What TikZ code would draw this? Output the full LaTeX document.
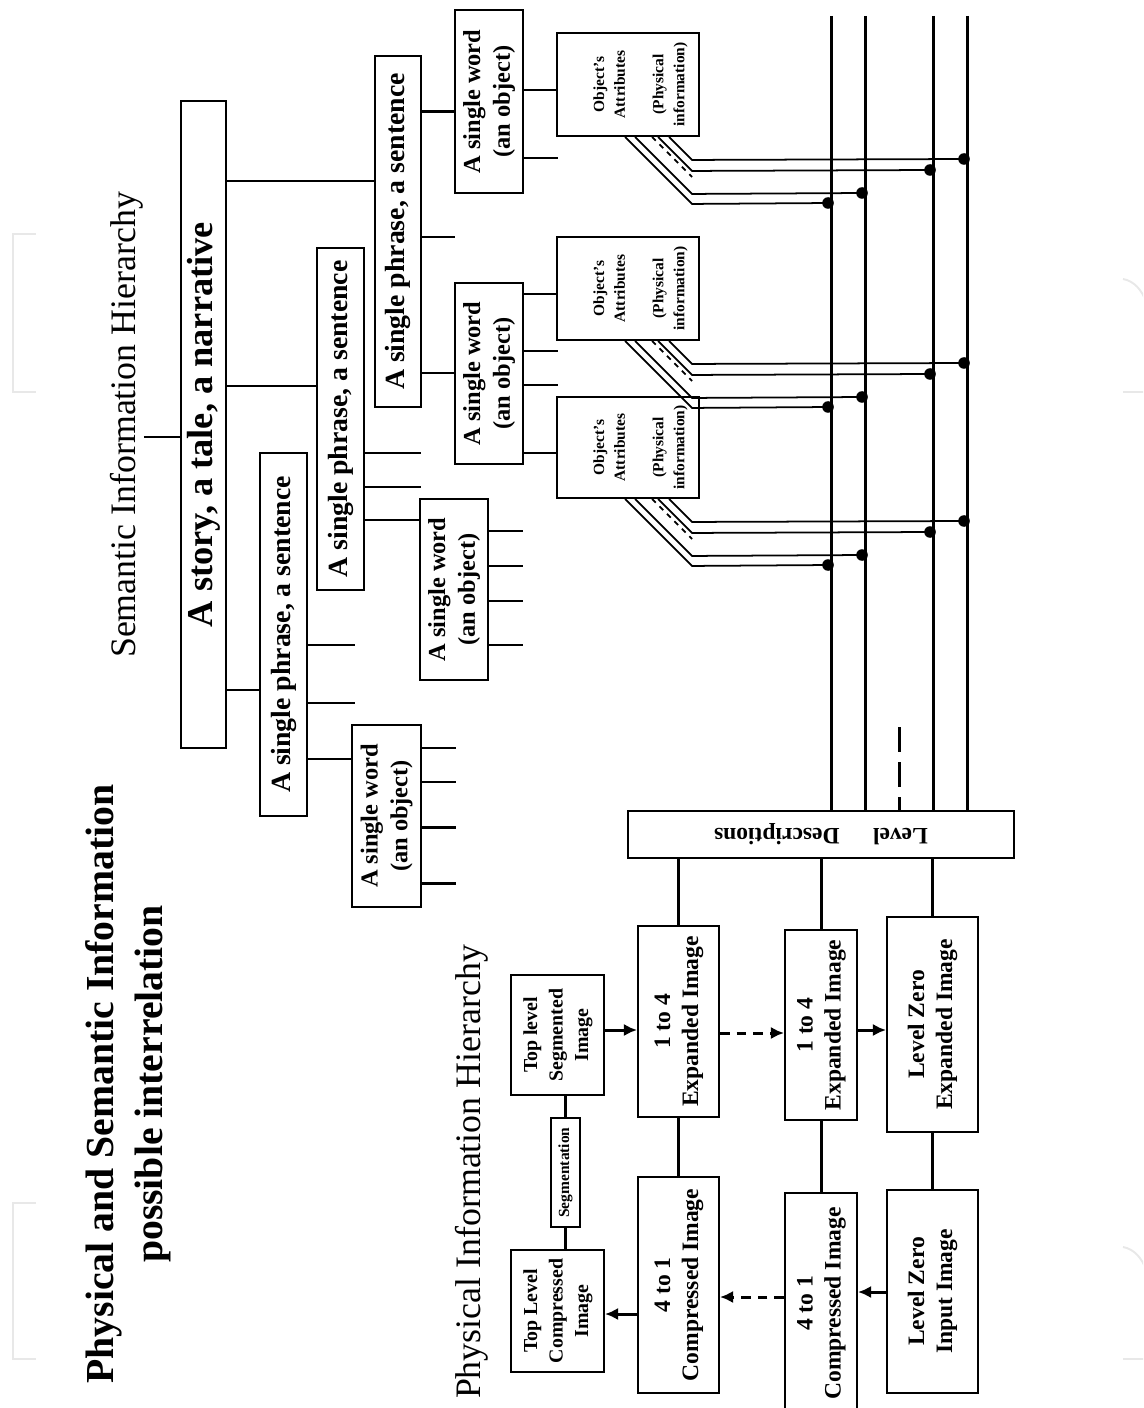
\documentclass[tikz,border=0pt]{standalone}
\usepackage{fontspec}
\setmainfont{Liberation Serif}
\usetikzlibrary{arrows.meta}

\newcommand{\uptext}[1]{\rotatebox{90}{\begin{tabular}{@{}c@{}}#1\end{tabular}}}

\tikzset{
  box/.style={draw, line width=1.1pt, inner sep=0pt},
  storybox/.style={box, font=\bfseries\fontsize{20.7pt}{25pt}\selectfont},
  phrasebox/.style={box, font=\bfseries\fontsize{15.8pt}{19pt}\selectfont},
  wordbox/.style={box, font=\bfseries\fontsize{13.9pt}{17pt}\selectfont},
  attrbox/.style={box, font=\bfseries\fontsize{8.8pt}{11.9pt}\selectfont},
  imgbox/.style={box, font=\bfseries\fontsize{13.4pt}{15.9pt}\selectfont},
  topbox/.style={box, font=\bfseries\fontsize{11.3pt}{14.5pt}\selectfont},
  segbox/.style={box, font=\bfseries\fontsize{8.8pt}{10pt}\selectfont},
  levelbox/.style={box, font=\bfseries\fontsize{13.4pt}{16pt}\selectfont},
  hier/.style={inner sep=0pt, font=\fontsize{20.4pt}{24pt}\selectfont},
  heading/.style={inner sep=0pt, font=\bfseries\fontsize{22.6pt}{28.3pt}\selectfont},
  link/.style={line width=1.7pt},
  wire/.style={line width=1pt},
  bus/.style={line width=1.7pt},
  flow/.style={line width=1.7pt, -{Latex[length=7.5pt,width=7pt]}},
  faint/.style={draw=black!9, line width=1.1pt}
}

\begin{document}
\begin{tikzpicture}[x=0.02cm, y=-0.02cm]
  \useasboundingbox (0,0) rectangle (1143,1408);
  \clip (0,0) rectangle (1143,1408);

  \draw[faint] (36,234) -- (13,234) -- (13,392) -- (36,392);
  \draw[faint] (36,1203) -- (13,1203) -- (13,1359) -- (36,1359);
  \draw[faint] (1123,279) .. controls (1134,281) and (1142,290) .. (1146,302);
  \draw[faint] (1123,392) -- (1146,392);
  \draw[faint] (1123,1247) .. controls (1134,1249) and (1142,1258) .. (1146,1270);
  \draw[faint] (1123,1359) -- (1146,1359);

  \node[heading] (title) at (128,1084) {\uptext{Physical and Semantic Information\\possible interrelation}};
  \node[hier] (semtitle) at (127,425) {\rotatebox{90}{Semantic Information Hierarchy}};
  \node[hier] (phystitle) at (472,1172) {\rotatebox{90}{Physical Information Hierarchy}};

  \node[storybox, minimum width=0.90cm, minimum height=12.94cm] (story) at (203.5,424.5) {\uptext{A story, a tale, a narrative}};
  \node[phrasebox, minimum width=0.94cm, minimum height=7.26cm] (phraseA) at (283.5,634.5) {\uptext{A single phrase, a sentence}};
  \node[phrasebox, minimum width=0.94cm, minimum height=6.84cm] (phraseB) at (340.5,419) {\uptext{A single phrase, a sentence}};
  \node[phrasebox, minimum width=0.92cm, minimum height=7.02cm] (phraseC) at (398,231.5) {\uptext{A single phrase, a sentence}};
  \node[wordbox, minimum width=1.38cm, minimum height=3.64cm] (wordA) at (386.5,816) {\uptext{A single word\\(an object)}};
  \node[wordbox, minimum width=1.36cm, minimum height=3.62cm] (wordB) at (454,589.5) {\uptext{A single word\\(an object)}};
  \node[wordbox, minimum width=1.36cm, minimum height=3.66cm] (wordC) at (489,101.5) {\uptext{A single word\\(an object)}};
  \node[wordbox, minimum width=1.36cm, minimum height=3.62cm] (wordD) at (489,373.5) {\uptext{A single word\\(an object)}};
  \node[attrbox, minimum width=2.84cm, minimum height=2.06cm] (attrA) at (628,84.5) {\hspace{0.48cm}\uptext{Object’s\\Attributes\\[10pt](Physical\\information)}};
  \node[attrbox, minimum width=2.84cm, minimum height=2.06cm] (attrB) at (628,288.5) {\hspace{0.48cm}\uptext{Object’s\\Attributes\\[10pt](Physical\\information)}};
  \node[attrbox, minimum width=2.84cm, minimum height=2.02cm] (attrC) at (628,447.5) {\hspace{0.48cm}\uptext{Object’s\\Attributes\\[10pt](Physical\\information)}};

  \node[levelbox, minimum width=7.72cm, minimum height=0.94cm] (levels) at (821,834.5) {\rotatebox{180}{Level\hspace{19pt}Descriptions}};

  \node[topbox, minimum width=1.86cm, minimum height=2.40cm] (segimg) at (557.5,1035) {\uptext{Top level\\Segmented\\Image}};
  \node[topbox, minimum width=1.86cm, minimum height=2.44cm] (topcomp) at (557.5,1311) {\uptext{Top Level\\Compressed\\Image}};
  \node[segbox, minimum width=0.58cm, minimum height=2.18cm] (segm) at (565.5,1172.5) {\uptext{Segmentation}};
  \node[imgbox, minimum width=1.62cm, minimum height=3.82cm] (expA) at (678.5,1021.5) {\uptext{1 to 4\\Expanded Image}};
  \node[imgbox, minimum width=1.62cm, minimum height=4.32cm] (compA) at (678.5,1285) {\uptext{4 to 1\\Compressed Image}};
  \node[imgbox, minimum width=1.44cm, minimum height=3.80cm] (expB) at (821,1025) {\uptext{1 to 4\\Expanded Image}};
  \node[imgbox, minimum width=1.44cm, minimum height=4.42cm] (compB) at (821,1303.5) {\uptext{4 to 1\\Compressed Image}};
  \node[imgbox, minimum width=1.82cm, minimum height=4.30cm] (lzexp) at (932.5,1024.5) {\uptext{Level Zero\\Expanded Image}};
  \node[imgbox, minimum width=1.82cm, minimum height=4.06cm] (lzin) at (932.5,1291.5) {\uptext{Level Zero\\Input Image}};

  \coordinate (bus1) at (831,16);
  \coordinate (bus2) at (865,16);
  \coordinate (bus3) at (933,16);
  \coordinate (bus4) at (967,16);
  \coordinate (busd) at (899,727);

  % semantic tree
  \draw[wire] (semtitle.east |- 0,437) -- (story.west |- 0,437);
  \draw[link] (story.east |- 0,181) -- (phraseC.west |- 0,181);
  \draw[link] (story.east |- 0,386) -- (phraseB.west |- 0,386);
  \draw[link] (story.east |- 0,690) -- (phraseA.west |- 0,690);

  \draw[link] (phraseA.east |- 0,645) -- ++(47,0);
  \draw[link] (phraseA.east |- 0,703) -- ++(47,0);
  \draw[link] (phraseA.east |- 0,759) -- (wordA.west |- 0,759);
  \draw[link] (phraseB.east |- 0,453) -- ++(56,0);
  \draw[link] (phraseB.east |- 0,487) -- ++(56,0);
  \draw[link] (phraseB.east |- 0,520) -- (wordB.west |- 0,520);
  \draw[link] (phraseC.east |- 0,112) -- (wordC.west |- 0,112);
  \draw[link] (phraseC.east |- 0,237) -- ++(33,0);
  \draw[link] (phraseC.east |- 0,373) -- (wordD.west |- 0,373);

  \draw[link] (wordA.east |- 0,748) -- ++(34,0);
  \draw[link] (wordA.east |- 0,782) -- ++(34,0);
  \draw[link] (wordA.east |- 0,827) -- ++(34,0);
  \draw[link] (wordA.east |- 0,883) -- ++(34,0);
  \draw[link] (wordB.east |- 0,531) -- ++(34,0);
  \draw[link] (wordB.east |- 0,566) -- ++(34,0);
  \draw[link] (wordB.east |- 0,601) -- ++(34,0);
  \draw[link] (wordB.east |- 0,645) -- ++(34,0);
  \draw[wire] (wordC.east |- 0,90) -- (attrA.west |- 0,90);
  \draw[link] (wordC.east |- 0,158) -- ++(34,0);
  \draw[wire] (wordD.east |- 0,294) -- (attrB.west |- 0,294);
  \draw[link] (wordD.east |- 0,351) -- ++(34,0);
  \draw[link] (wordD.east |- 0,385) -- ++(34,0);
  \draw[wire] (wordD.east |- 0,453) -- (attrC.west |- 0,453);

  % level buses
  \draw[bus] (bus1) -- (bus1 |- levels.north);
  \draw[bus] (bus2) -- (bus2 |- levels.north);
  \draw[bus] (bus3) -- (bus3 |- levels.north);
  \draw[bus] (bus4) -- (bus4 |- levels.north);
  \draw[bus, dash pattern=on 14pt off 6pt] (busd) -- (busd |- levels.north);

  \draw[wire] (attrA.south west) ++(69,0) -- ++(67,67) -- (bus1 |- 0,203)
              (attrA.south west) ++(79,0) -- ++(57,57) -- (bus2 |- 0,193)
              (attrA.south west) ++(102,0) -- ++(34,34) -- (bus3 |- 0,170)
              (attrA.south west) ++(113,0) -- ++(23,23) -- (bus4 |- 0,159);
  \draw[wire, dash pattern=on 3pt off 3pt] (attrA.south west) ++(96,0) -- ++(40,40);
  \fill (bus1 |- 0,203) ++(-3,0) circle (3.3pt);
  \fill (bus2 |- 0,193) ++(-3,0) circle (3.3pt);
  \fill (bus3 |- 0,170) ++(-3,0) circle (3.3pt);
  \fill (bus4 |- 0,159) ++(-3,0) circle (3.3pt);

  \draw[wire] (attrB.south west) ++(69,0) -- ++(67,67) -- (bus1 |- 0,407)
              (attrB.south west) ++(79,0) -- ++(57,57) -- (bus2 |- 0,397)
              (attrB.south west) ++(102,0) -- ++(34,34) -- (bus3 |- 0,374)
              (attrB.south west) ++(113,0) -- ++(23,23) -- (bus4 |- 0,363);
  \draw[wire, dash pattern=on 3pt off 3pt] (attrB.south west) ++(96,0) -- ++(40,40);
  \fill (bus1 |- 0,407) ++(-3,0) circle (3.3pt);
  \fill (bus2 |- 0,397) ++(-3,0) circle (3.3pt);
  \fill (bus3 |- 0,374) ++(-3,0) circle (3.3pt);
  \fill (bus4 |- 0,363) ++(-3,0) circle (3.3pt);

  \draw[wire] (attrC.south west) ++(69,0) -- ++(67,67) -- (bus1 |- 0,565)
              (attrC.south west) ++(79,0) -- ++(57,57) -- (bus2 |- 0,555)
              (attrC.south west) ++(102,0) -- ++(34,34) -- (bus3 |- 0,532)
              (attrC.south west) ++(113,0) -- ++(23,23) -- (bus4 |- 0,521);
  \draw[wire, dash pattern=on 3pt off 3pt] (attrC.south west) ++(96,0) -- ++(40,40);
  \fill (bus1 |- 0,565) ++(-3,0) circle (3.3pt);
  \fill (bus2 |- 0,555) ++(-3,0) circle (3.3pt);
  \fill (bus3 |- 0,532) ++(-3,0) circle (3.3pt);
  \fill (bus4 |- 0,521) ++(-3,0) circle (3.3pt);

  % physical hierarchy
  \draw[link] (levels.south -| expA) -- (expA);
  \draw[link] (levels.south -| expB) -- (expB);
  \draw[link] (levels.south -| lzexp) -- (lzexp);
  \draw[link] (expA) -- (compA);
  \draw[link] (expB) -- (compB);
  \draw[link] (lzexp) -- (lzin);
  \draw[link] (segimg.south -| segm) -- (segm);
  \draw[link] (segm) -- (segm |- topcomp.north);

  \draw[flow] (segimg.east |- 0,1030) -- (expA.west |- 0,1030);
  \draw[flow, dash pattern=on 5.5pt off 4pt] (expA.east |- 0,1033) -- (expB.west |- 0,1033);
  \draw[flow] (expB.east |- 0,1030) -- (lzexp.west |- 0,1030);
  \draw[flow] (lzin.west |- 0,1292) -- (compB.east |- 0,1292);
  \draw[flow, dash pattern=on 5.5pt off 4pt] (compB.west |- 0,1297) -- (compA.east |- 0,1297);
  \draw[flow] (compA.west |- 0,1314) -- (topcomp.east |- 0,1314);
\end{tikzpicture}
\end{document}
